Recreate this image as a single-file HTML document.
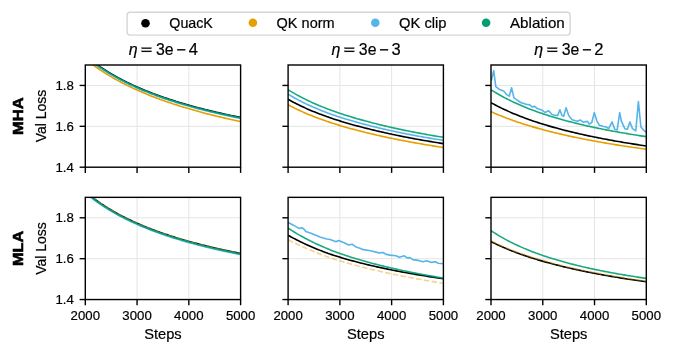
<!DOCTYPE html>
<html><head><meta charset="utf-8"><style>
html,body{margin:0;padding:0;background:#fff;width:673px;height:354px;overflow:hidden;}
svg{display:block;will-change:transform;font-family:"Liberation Sans", sans-serif;}
</style></head><body>
<svg width="673" height="354" viewBox="0 0 673 354">
<rect width="673" height="354" fill="#fff"/>
<defs>
<clipPath id="c00"><rect x="85.3" y="65.0" width="155.3" height="102.2"/></clipPath>
<clipPath id="c01"><rect x="288.1" y="65.0" width="155.3" height="102.2"/></clipPath>
<clipPath id="c02"><rect x="491.0" y="65.0" width="155.3" height="102.2"/></clipPath>
<clipPath id="c10"><rect x="85.3" y="197.35" width="155.3" height="102.2"/></clipPath>
<clipPath id="c11"><rect x="288.1" y="197.35" width="155.3" height="102.2"/></clipPath>
<clipPath id="c12"><rect x="491.0" y="197.35" width="155.3" height="102.2"/></clipPath>
</defs>
<line x1="137.07" y1="65.0" x2="137.07" y2="167.2" stroke="#e5e5e5" stroke-width="1"/>
<line x1="188.83" y1="65.0" x2="188.83" y2="167.2" stroke="#e5e5e5" stroke-width="1"/>
<line x1="85.3" y1="126.32" x2="240.60000000000002" y2="126.32" stroke="#e5e5e5" stroke-width="1"/>
<line x1="85.3" y1="85.44" x2="240.60000000000002" y2="85.44" stroke="#e5e5e5" stroke-width="1"/>
<g clip-path="url(#c00)" fill="none" stroke-linejoin="round" stroke-linecap="butt">
<path d="M85.30,55.58 L87.04,57.02 L88.79,58.43 L90.53,59.80 L92.28,61.13 L94.02,62.44 L95.77,63.71 L97.51,64.95 L99.26,66.16 L101.00,67.35 L102.75,68.50 L104.49,69.64 L106.24,70.74 L107.98,71.82 L109.73,72.88 L111.47,73.92 L113.22,74.93 L114.96,75.93 L116.71,76.90 L118.45,77.86 L120.20,78.79 L121.94,79.71 L123.69,80.61 L125.43,81.49 L127.18,82.36 L128.92,83.21 L130.67,84.04 L132.41,84.86 L134.16,85.66 L135.90,86.45 L137.65,87.22 L139.39,87.99 L141.14,88.74 L142.88,89.47 L144.63,90.19 L146.37,90.91 L148.12,91.61 L149.86,92.29 L151.61,92.97 L153.35,93.64 L155.10,94.29 L156.84,94.94 L158.59,95.57 L160.33,96.20 L162.08,96.82 L163.82,97.42 L165.57,98.02 L167.31,98.61 L169.06,99.19 L170.80,99.76 L172.55,100.32 L174.29,100.88 L176.04,101.43 L177.78,101.97 L179.53,102.50 L181.27,103.03 L183.02,103.54 L184.76,104.05 L186.51,104.56 L188.25,105.06 L190.00,105.55 L191.74,106.03 L193.49,106.51 L195.23,106.98 L196.98,107.45 L198.72,107.91 L200.47,108.36 L202.21,108.81 L203.96,109.25 L205.70,109.69 L207.45,110.12 L209.19,110.55 L210.94,110.97 L212.68,111.39 L214.43,111.80 L216.17,112.21 L217.92,112.61 L219.66,113.01 L221.41,113.40 L223.15,113.79 L224.90,114.18 L226.64,114.56 L228.39,114.93 L230.13,115.30 L231.88,115.67 L233.62,116.04 L235.37,116.40 L237.11,116.75 L238.86,117.10 L240.60,117.45" stroke="#000000" stroke-width="1.6"/>
<path d="M85.30,58.83 L87.04,60.24 L88.79,61.62 L90.53,62.96 L92.28,64.27 L94.02,65.55 L95.77,66.81 L97.51,68.03 L99.26,69.23 L101.00,70.40 L102.75,71.54 L104.49,72.66 L106.24,73.76 L107.98,74.84 L109.73,75.89 L111.47,76.92 L113.22,77.94 L114.96,78.93 L116.71,79.90 L118.45,80.86 L120.20,81.80 L121.94,82.72 L123.69,83.62 L125.43,84.50 L127.18,85.38 L128.92,86.23 L130.67,87.07 L132.41,87.90 L134.16,88.71 L135.90,89.51 L137.65,90.29 L139.39,91.07 L141.14,91.83 L142.88,92.57 L144.63,93.31 L146.37,94.03 L148.12,94.74 L149.86,95.45 L151.61,96.14 L153.35,96.82 L155.10,97.49 L156.84,98.15 L158.59,98.80 L160.33,99.44 L162.08,100.07 L163.82,100.70 L165.57,101.31 L167.31,101.92 L169.06,102.51 L170.80,103.10 L172.55,103.68 L174.29,104.26 L176.04,104.82 L177.78,105.38 L179.53,105.93 L181.27,106.47 L183.02,107.01 L184.76,107.54 L186.51,108.06 L188.25,108.58 L190.00,109.09 L191.74,109.59 L193.49,110.09 L195.23,110.58 L196.98,111.07 L198.72,111.55 L200.47,112.02 L202.21,112.49 L203.96,112.96 L205.70,113.41 L207.45,113.87 L209.19,114.31 L210.94,114.76 L212.68,115.19 L214.43,115.63 L216.17,116.05 L217.92,116.48 L219.66,116.89 L221.41,117.31 L223.15,117.72 L224.90,118.12 L226.64,118.52 L228.39,118.92 L230.13,119.31 L231.88,119.70 L233.62,120.09 L235.37,120.47 L237.11,120.84 L238.86,121.21 L240.60,121.58" stroke="#E69F00" stroke-width="1.6"/>
<path d="M85.30,56.53 L87.04,57.97 L88.79,59.38 L90.53,60.75 L92.28,62.08 L94.02,63.39 L95.77,64.66 L97.51,65.90 L99.26,67.11 L101.00,68.30 L102.75,69.45 L104.49,70.59 L106.24,71.69 L107.98,72.77 L109.73,73.83 L111.47,74.87 L113.22,75.88 L114.96,76.88 L116.71,77.85 L118.45,78.81 L120.20,79.74 L121.94,80.66 L123.69,81.56 L125.43,82.44 L127.18,83.31 L128.92,84.16 L130.67,84.99 L132.41,85.81 L134.16,86.61 L135.90,87.40 L137.65,88.17 L139.39,88.94 L141.14,89.69 L142.88,90.42 L144.63,91.14 L146.37,91.86 L148.12,92.56 L149.86,93.24 L151.61,93.92 L153.35,94.59 L155.10,95.24 L156.84,95.89 L158.59,96.52 L160.33,97.15 L162.08,97.77 L163.82,98.37 L165.57,98.97 L167.31,99.56 L169.06,100.14 L170.80,100.71 L172.55,101.27 L174.29,101.83 L176.04,102.38 L177.78,102.92 L179.53,103.45 L181.27,103.98 L183.02,104.49 L184.76,105.00 L186.51,105.51 L188.25,106.01 L190.00,106.50 L191.74,106.98 L193.49,107.46 L195.23,107.93 L196.98,108.40 L198.72,108.86 L200.47,109.31 L202.21,109.76 L203.96,110.20 L205.70,110.64 L207.45,111.07 L209.19,111.50 L210.94,111.92 L212.68,112.34 L214.43,112.75 L216.17,113.16 L217.92,113.56 L219.66,113.96 L221.41,114.35 L223.15,114.74 L224.90,115.13 L226.64,115.51 L228.39,115.88 L230.13,116.25 L231.88,116.62 L233.62,116.99 L235.37,117.35 L237.11,117.70 L238.86,118.05 L240.60,118.40" stroke="#56B4E9" stroke-width="1.6"/>
<path d="M85.30,56.03 L87.04,57.47 L88.79,58.88 L90.53,60.25 L92.28,61.58 L94.02,62.89 L95.77,64.16 L97.51,65.40 L99.26,66.61 L101.00,67.80 L102.75,68.95 L104.49,70.09 L106.24,71.19 L107.98,72.27 L109.73,73.33 L111.47,74.37 L113.22,75.38 L114.96,76.38 L116.71,77.35 L118.45,78.31 L120.20,79.24 L121.94,80.16 L123.69,81.06 L125.43,81.94 L127.18,82.81 L128.92,83.66 L130.67,84.49 L132.41,85.31 L134.16,86.11 L135.90,86.90 L137.65,87.67 L139.39,88.44 L141.14,89.19 L142.88,89.92 L144.63,90.64 L146.37,91.36 L148.12,92.06 L149.86,92.74 L151.61,93.42 L153.35,94.09 L155.10,94.74 L156.84,95.39 L158.59,96.02 L160.33,96.65 L162.08,97.27 L163.82,97.87 L165.57,98.47 L167.31,99.06 L169.06,99.64 L170.80,100.21 L172.55,100.77 L174.29,101.33 L176.04,101.88 L177.78,102.42 L179.53,102.95 L181.27,103.48 L183.02,103.99 L184.76,104.50 L186.51,105.01 L188.25,105.51 L190.00,106.00 L191.74,106.48 L193.49,106.96 L195.23,107.43 L196.98,107.90 L198.72,108.36 L200.47,108.81 L202.21,109.26 L203.96,109.70 L205.70,110.14 L207.45,110.57 L209.19,111.00 L210.94,111.42 L212.68,111.84 L214.43,112.25 L216.17,112.66 L217.92,113.06 L219.66,113.46 L221.41,113.85 L223.15,114.24 L224.90,114.63 L226.64,115.01 L228.39,115.38 L230.13,115.75 L231.88,116.12 L233.62,116.49 L235.37,116.85 L237.11,117.20 L238.86,117.55 L240.60,117.90" stroke="#009E73" stroke-width="1.6" stroke-opacity="0.9"/>
</g>
<rect x="85.3" y="65.0" width="155.3" height="102.2" fill="none" stroke="#000" stroke-width="1.4"/>
<line x1="85.30" y1="167.2" x2="85.30" y2="172.89999999999998" stroke="#000" stroke-width="1.4"/>
<line x1="137.07" y1="167.2" x2="137.07" y2="172.89999999999998" stroke="#000" stroke-width="1.4"/>
<line x1="188.83" y1="167.2" x2="188.83" y2="172.89999999999998" stroke="#000" stroke-width="1.4"/>
<line x1="240.60" y1="167.2" x2="240.60" y2="172.89999999999998" stroke="#000" stroke-width="1.4"/>
<line x1="79.6" y1="167.20" x2="85.3" y2="167.20" stroke="#000" stroke-width="1.4"/>
<line x1="79.6" y1="126.32" x2="85.3" y2="126.32" stroke="#000" stroke-width="1.4"/>
<line x1="79.6" y1="85.44" x2="85.3" y2="85.44" stroke="#000" stroke-width="1.4"/>
<line x1="339.87" y1="65.0" x2="339.87" y2="167.2" stroke="#e5e5e5" stroke-width="1"/>
<line x1="391.63" y1="65.0" x2="391.63" y2="167.2" stroke="#e5e5e5" stroke-width="1"/>
<line x1="288.1" y1="126.32" x2="443.40000000000003" y2="126.32" stroke="#e5e5e5" stroke-width="1"/>
<line x1="288.1" y1="85.44" x2="443.40000000000003" y2="85.44" stroke="#e5e5e5" stroke-width="1"/>
<g clip-path="url(#c01)" fill="none" stroke-linejoin="round" stroke-linecap="butt">
<path d="M288.10,99.30 L289.84,100.28 L291.59,101.24 L293.33,102.17 L295.08,103.08 L296.82,103.97 L298.57,104.83 L300.31,105.68 L302.06,106.51 L303.80,107.33 L305.55,108.12 L307.29,108.90 L309.04,109.66 L310.78,110.41 L312.53,111.14 L314.27,111.85 L316.02,112.56 L317.76,113.24 L319.51,113.92 L321.25,114.58 L323.00,115.23 L324.74,115.87 L326.49,116.50 L328.23,117.11 L329.98,117.71 L331.72,118.31 L333.47,118.89 L335.21,119.46 L336.96,120.03 L338.70,120.58 L340.45,121.13 L342.19,121.66 L343.94,122.19 L345.68,122.71 L347.43,123.22 L349.17,123.72 L350.92,124.21 L352.66,124.70 L354.41,125.18 L356.15,125.65 L357.90,126.12 L359.64,126.57 L361.39,127.03 L363.13,127.47 L364.88,127.91 L366.62,128.36 L368.37,128.80 L370.11,129.24 L371.86,129.67 L373.60,130.10 L375.35,130.52 L377.09,130.94 L378.84,131.35 L380.58,131.75 L382.33,132.15 L384.07,132.55 L385.82,132.94 L387.56,133.32 L389.31,133.70 L391.05,134.08 L392.80,134.45 L394.54,134.82 L396.29,135.18 L398.03,135.54 L399.78,135.90 L401.52,136.25 L403.27,136.59 L405.01,136.94 L406.76,137.28 L408.50,137.61 L410.25,137.94 L411.99,138.27 L413.74,138.60 L415.48,138.92 L417.23,139.24 L418.97,139.55 L420.72,139.86 L422.46,140.17 L424.21,140.47 L425.95,140.78 L427.70,141.08 L429.44,141.37 L431.19,141.66 L432.93,141.96 L434.68,142.24 L436.42,142.53 L438.17,142.81 L439.91,143.09 L441.66,143.36 L443.40,143.63" stroke="#000000" stroke-width="1.6"/>
<path d="M288.10,104.79 L289.84,105.71 L291.59,106.62 L293.33,107.50 L295.08,108.36 L296.82,109.21 L298.57,110.03 L300.31,110.84 L302.06,111.63 L303.80,112.41 L305.55,113.17 L307.29,113.91 L309.04,114.64 L310.78,115.35 L312.53,116.05 L314.27,116.74 L316.02,117.41 L317.76,118.07 L319.51,118.72 L321.25,119.35 L323.00,119.98 L324.74,120.59 L326.49,121.20 L328.23,121.79 L329.98,122.37 L331.72,122.94 L333.47,123.51 L335.21,124.06 L336.96,124.61 L338.70,125.14 L340.45,125.67 L342.19,126.19 L343.94,126.70 L345.68,127.20 L347.43,127.70 L349.17,128.18 L350.92,128.67 L352.66,129.14 L354.41,129.60 L356.15,130.06 L357.90,130.52 L359.64,130.96 L361.39,131.40 L363.13,131.84 L364.88,132.27 L366.62,132.70 L368.37,133.13 L370.11,133.55 L371.86,133.97 L373.60,134.38 L375.35,134.78 L377.09,135.18 L378.84,135.58 L380.58,135.97 L382.33,136.36 L384.07,136.74 L385.82,137.12 L387.56,137.49 L389.31,137.86 L391.05,138.22 L392.80,138.58 L394.54,138.94 L396.29,139.29 L398.03,139.64 L399.78,139.98 L401.52,140.32 L403.27,140.66 L405.01,140.99 L406.76,141.32 L408.50,141.64 L410.25,141.96 L411.99,142.28 L413.74,142.60 L415.48,142.91 L417.23,143.22 L418.97,143.52 L420.72,143.83 L422.46,144.12 L424.21,144.42 L425.95,144.71 L427.70,145.00 L429.44,145.29 L431.19,145.58 L432.93,145.86 L434.68,146.14 L436.42,146.42 L438.17,146.69 L439.91,146.96 L441.66,147.23 L443.40,147.49" stroke="#E69F00" stroke-width="1.6"/>
<path d="M288.10,94.11 L289.84,95.17 L291.59,96.21 L293.33,97.21 L295.08,98.19 L296.82,99.15 L298.57,100.09 L300.31,101.00 L302.06,101.89 L303.80,102.76 L305.55,103.61 L307.29,104.44 L309.04,105.25 L310.78,106.05 L312.53,106.83 L314.27,107.59 L316.02,108.33 L317.76,109.06 L319.51,109.78 L321.25,110.48 L323.00,111.17 L324.74,111.84 L326.49,112.50 L328.23,113.15 L329.98,113.78 L331.72,114.40 L333.47,115.01 L335.21,115.61 L336.96,116.20 L338.70,116.78 L340.45,117.35 L342.19,117.91 L343.94,118.46 L345.68,119.00 L347.43,119.53 L349.17,120.05 L350.92,120.56 L352.66,121.07 L354.41,121.56 L356.15,122.05 L357.90,122.53 L359.64,123.00 L361.39,123.47 L363.13,123.93 L364.88,124.38 L366.62,124.84 L368.37,125.30 L370.11,125.75 L371.86,126.19 L373.60,126.63 L375.35,127.07 L377.09,127.49 L378.84,127.91 L380.58,128.33 L382.33,128.74 L384.07,129.14 L385.82,129.54 L387.56,129.94 L389.31,130.33 L391.05,130.71 L392.80,131.09 L394.54,131.46 L396.29,131.83 L398.03,132.20 L399.78,132.56 L401.52,132.92 L403.27,133.27 L405.01,133.62 L406.76,133.96 L408.50,134.30 L410.25,134.64 L411.99,134.97 L413.74,135.30 L415.48,135.62 L417.23,135.94 L418.97,136.26 L420.72,136.58 L422.46,136.89 L424.21,137.19 L425.95,137.50 L427.70,137.80 L429.44,138.10 L431.19,138.39 L432.93,138.68 L434.68,138.97 L436.42,139.26 L438.17,139.54 L439.91,139.82 L441.66,140.10 L443.40,140.37" stroke="#56B4E9" stroke-width="1.6"/>
<path d="M288.10,89.75 L289.84,90.82 L291.59,91.87 L293.33,92.88 L295.08,93.88 L296.82,94.85 L298.57,95.80 L300.31,96.72 L302.06,97.63 L303.80,98.52 L305.55,99.38 L307.29,100.23 L309.04,101.06 L310.78,101.87 L312.53,102.67 L314.27,103.45 L316.02,104.21 L317.76,104.96 L319.51,105.69 L321.25,106.41 L323.00,107.12 L324.74,107.81 L326.49,108.49 L328.23,109.16 L329.98,109.81 L331.72,110.45 L333.47,111.09 L335.21,111.71 L336.96,112.32 L338.70,112.92 L340.45,113.51 L342.19,114.09 L343.94,114.66 L345.68,115.22 L347.43,115.77 L349.17,116.31 L350.92,116.85 L352.66,117.37 L354.41,117.89 L356.15,118.40 L357.90,118.90 L359.64,119.39 L361.39,119.88 L363.13,120.36 L364.88,120.83 L366.62,121.31 L368.37,121.78 L370.11,122.24 L371.86,122.70 L373.60,123.15 L375.35,123.60 L377.09,124.04 L378.84,124.47 L380.58,124.90 L382.33,125.32 L384.07,125.74 L385.82,126.15 L387.56,126.55 L389.31,126.95 L391.05,127.35 L392.80,127.74 L394.54,128.13 L396.29,128.51 L398.03,128.89 L399.78,129.26 L401.52,129.63 L403.27,129.99 L405.01,130.35 L406.76,130.71 L408.50,131.06 L410.25,131.41 L411.99,131.75 L413.74,132.09 L415.48,132.43 L417.23,132.76 L418.97,133.09 L420.72,133.41 L422.46,133.73 L424.21,134.05 L425.95,134.37 L427.70,134.68 L429.44,134.99 L431.19,135.29 L432.93,135.59 L434.68,135.89 L436.42,136.19 L438.17,136.48 L439.91,136.77 L441.66,137.06 L443.40,137.34" stroke="#009E73" stroke-width="1.6" stroke-opacity="0.9"/>
</g>
<rect x="288.1" y="65.0" width="155.3" height="102.2" fill="none" stroke="#000" stroke-width="1.4"/>
<line x1="288.10" y1="167.2" x2="288.10" y2="172.89999999999998" stroke="#000" stroke-width="1.4"/>
<line x1="339.87" y1="167.2" x2="339.87" y2="172.89999999999998" stroke="#000" stroke-width="1.4"/>
<line x1="391.63" y1="167.2" x2="391.63" y2="172.89999999999998" stroke="#000" stroke-width="1.4"/>
<line x1="443.40" y1="167.2" x2="443.40" y2="172.89999999999998" stroke="#000" stroke-width="1.4"/>
<line x1="282.40000000000003" y1="167.20" x2="288.1" y2="167.20" stroke="#000" stroke-width="1.4"/>
<line x1="282.40000000000003" y1="126.32" x2="288.1" y2="126.32" stroke="#000" stroke-width="1.4"/>
<line x1="282.40000000000003" y1="85.44" x2="288.1" y2="85.44" stroke="#000" stroke-width="1.4"/>
<line x1="542.77" y1="65.0" x2="542.77" y2="167.2" stroke="#e5e5e5" stroke-width="1"/>
<line x1="594.53" y1="65.0" x2="594.53" y2="167.2" stroke="#e5e5e5" stroke-width="1"/>
<line x1="491.0" y1="126.32" x2="646.3" y2="126.32" stroke="#e5e5e5" stroke-width="1"/>
<line x1="491.0" y1="85.44" x2="646.3" y2="85.44" stroke="#e5e5e5" stroke-width="1"/>
<g clip-path="url(#c02)" fill="none" stroke-linejoin="round" stroke-linecap="butt">
<path d="M491.00,102.64 L492.74,103.61 L494.49,104.55 L496.23,105.47 L497.98,106.37 L499.72,107.25 L501.47,108.11 L503.21,108.95 L504.96,109.78 L506.70,110.58 L508.45,111.37 L510.19,112.14 L511.94,112.90 L513.68,113.64 L515.43,114.36 L517.17,115.07 L518.92,115.77 L520.66,116.45 L522.41,117.12 L524.15,117.78 L525.90,118.43 L527.64,119.06 L529.39,119.68 L531.13,120.29 L532.88,120.89 L534.62,121.48 L536.37,122.06 L538.11,122.63 L539.86,123.20 L541.60,123.75 L543.35,124.29 L545.09,124.82 L546.84,125.35 L548.58,125.86 L550.33,126.37 L552.07,126.87 L553.82,127.36 L555.56,127.85 L557.31,128.33 L559.05,128.80 L560.80,129.26 L562.54,129.72 L564.29,130.17 L566.03,130.61 L567.78,131.05 L569.52,131.48 L571.27,131.90 L573.01,132.32 L574.76,132.74 L576.50,133.14 L578.25,133.55 L579.99,133.94 L581.74,134.34 L583.48,134.72 L585.23,135.10 L586.97,135.48 L588.72,135.85 L590.46,136.22 L592.21,136.58 L593.95,136.94 L595.70,137.30 L597.44,137.64 L599.19,137.99 L600.93,138.33 L602.68,138.67 L604.42,139.00 L606.17,139.33 L607.91,139.66 L609.66,139.98 L611.40,140.29 L613.15,140.61 L614.89,140.92 L616.64,141.23 L618.38,141.53 L620.13,141.83 L621.87,142.13 L623.62,142.42 L625.36,142.71 L627.11,143.00 L628.85,143.29 L630.60,143.57 L632.34,143.85 L634.09,144.12 L635.83,144.39 L637.58,144.66 L639.32,144.93 L641.07,145.20 L642.81,145.46 L644.56,145.72 L646.30,145.98" stroke="#000000" stroke-width="1.6"/>
<path d="M491.00,111.59 L492.74,112.38 L494.49,113.16 L496.23,113.91 L497.98,114.66 L499.72,115.38 L501.47,116.09 L503.21,116.79 L504.96,117.48 L506.70,118.15 L508.45,118.80 L510.19,119.45 L511.94,120.08 L513.68,120.70 L515.43,121.31 L517.17,121.91 L518.92,122.50 L520.66,123.08 L522.41,123.65 L524.15,124.21 L525.90,124.76 L527.64,125.30 L529.39,125.83 L531.13,126.35 L532.88,126.87 L534.62,127.38 L536.37,127.88 L538.11,128.37 L539.86,128.85 L541.60,129.33 L543.35,129.80 L545.09,130.26 L546.84,130.71 L548.58,131.16 L550.33,131.61 L552.07,132.04 L553.82,132.47 L555.56,132.90 L557.31,133.32 L559.05,133.73 L560.80,134.14 L562.54,134.54 L564.29,134.94 L566.03,135.33 L567.78,135.72 L569.52,136.10 L571.27,136.47 L573.01,136.85 L574.76,137.21 L576.50,137.58 L578.25,137.94 L579.99,138.29 L581.74,138.64 L583.48,138.99 L585.23,139.33 L586.97,139.67 L588.72,140.00 L590.46,140.33 L592.21,140.66 L593.95,140.98 L595.70,141.30 L597.44,141.62 L599.19,141.93 L600.93,142.24 L602.68,142.55 L604.42,142.85 L606.17,143.15 L607.91,143.44 L609.66,143.74 L611.40,144.03 L613.15,144.31 L614.89,144.60 L616.64,144.88 L618.38,145.16 L620.13,145.43 L621.87,145.71 L623.62,145.98 L625.36,146.24 L627.11,146.51 L628.85,146.77 L630.60,147.03 L632.34,147.29 L634.09,147.54 L635.83,147.80 L637.58,148.05 L639.32,148.30 L641.07,148.54 L642.81,148.79 L644.56,149.03 L646.30,149.27" stroke="#E69F00" stroke-width="1.6"/>
<path d="M490.90,80.50 L491.60,79.50 L493.70,70.60 L495.80,86.60 L499.60,89.60 L503.70,91.10 L506.40,94.30 L509.30,96.20 L511.60,87.80 L513.90,97.90 L517.70,100.40 L520.60,102.50 L526.10,104.20 L529.70,104.90 L532.20,106.90 L534.80,106.40 L537.30,108.60 L542.40,110.30 L545.00,112.50 L548.70,110.80 L551.70,114.20 L555.10,115.40 L557.70,115.40 L559.90,109.80 L561.90,115.40 L563.60,116.30 L566.10,107.80 L568.70,115.40 L572.10,119.70 L577.20,121.30 L580.50,120.00 L583.10,122.20 L587.50,121.40 L589.20,124.10 L591.80,122.50 L594.30,112.60 L596.90,121.10 L599.40,125.30 L603.60,126.50 L606.20,127.00 L608.70,128.70 L612.10,121.90 L614.70,129.20 L617.20,129.90 L619.70,112.60 L621.40,121.10 L624.80,128.70 L627.40,129.20 L629.90,121.90 L632.50,128.70 L635.80,130.90 L638.40,101.60 L640.90,127.00 L643.50,129.90 L646.20,132.30" stroke="#56B4E9" stroke-width="1.6"/>
<path d="M491.00,89.75 L492.74,90.86 L494.49,91.94 L496.23,92.99 L497.98,94.01 L499.72,95.01 L501.47,95.99 L503.21,96.94 L504.96,97.87 L506.70,98.78 L508.45,99.66 L510.19,100.53 L511.94,101.37 L513.68,102.20 L515.43,103.01 L517.17,103.80 L518.92,104.58 L520.66,105.34 L522.41,106.08 L524.15,106.80 L525.90,107.52 L527.64,108.21 L529.39,108.90 L531.13,109.57 L532.88,110.23 L534.62,110.87 L536.37,111.51 L538.11,112.13 L539.86,112.74 L541.60,113.34 L543.35,113.92 L545.09,114.50 L546.84,115.07 L548.58,115.63 L550.33,116.17 L552.07,116.71 L553.82,117.24 L555.56,117.76 L557.31,118.27 L559.05,118.78 L560.80,119.27 L562.54,119.76 L564.29,120.24 L566.03,120.71 L567.78,121.18 L569.52,121.63 L571.27,122.09 L573.01,122.53 L574.76,122.97 L576.50,123.40 L578.25,123.82 L579.99,124.24 L581.74,124.65 L583.48,125.06 L585.23,125.46 L586.97,125.85 L588.72,126.24 L590.46,126.63 L592.21,127.00 L593.95,127.38 L595.70,127.75 L597.44,128.11 L599.19,128.47 L600.93,128.82 L602.68,129.17 L604.42,129.52 L606.17,129.86 L607.91,130.19 L609.66,130.52 L611.40,130.85 L613.15,131.18 L614.89,131.49 L616.64,131.81 L618.38,132.12 L620.13,132.43 L621.87,132.73 L623.62,133.04 L625.36,133.33 L627.11,133.63 L628.85,133.92 L630.60,134.20 L632.34,134.49 L634.09,134.77 L635.83,135.04 L637.58,135.32 L639.32,135.59 L641.07,135.86 L642.81,136.12 L644.56,136.39 L646.30,136.64" stroke="#009E73" stroke-width="1.6" stroke-opacity="0.9"/>
</g>
<rect x="491.0" y="65.0" width="155.3" height="102.2" fill="none" stroke="#000" stroke-width="1.4"/>
<line x1="491.00" y1="167.2" x2="491.00" y2="172.89999999999998" stroke="#000" stroke-width="1.4"/>
<line x1="542.77" y1="167.2" x2="542.77" y2="172.89999999999998" stroke="#000" stroke-width="1.4"/>
<line x1="594.53" y1="167.2" x2="594.53" y2="172.89999999999998" stroke="#000" stroke-width="1.4"/>
<line x1="646.30" y1="167.2" x2="646.30" y2="172.89999999999998" stroke="#000" stroke-width="1.4"/>
<line x1="485.3" y1="167.20" x2="491.0" y2="167.20" stroke="#000" stroke-width="1.4"/>
<line x1="485.3" y1="126.32" x2="491.0" y2="126.32" stroke="#000" stroke-width="1.4"/>
<line x1="485.3" y1="85.44" x2="491.0" y2="85.44" stroke="#000" stroke-width="1.4"/>
<line x1="137.07" y1="197.35" x2="137.07" y2="299.55" stroke="#e5e5e5" stroke-width="1"/>
<line x1="188.83" y1="197.35" x2="188.83" y2="299.55" stroke="#e5e5e5" stroke-width="1"/>
<line x1="85.3" y1="258.67" x2="240.60000000000002" y2="258.67" stroke="#e5e5e5" stroke-width="1"/>
<line x1="85.3" y1="217.79" x2="240.60000000000002" y2="217.79" stroke="#e5e5e5" stroke-width="1"/>
<g clip-path="url(#c10)" fill="none" stroke-linejoin="round" stroke-linecap="butt">
<path d="M85.30,191.72 L87.04,193.17 L88.79,194.60 L90.53,195.98 L92.28,197.33 L94.02,198.64 L95.77,199.92 L97.51,201.18 L99.26,202.40 L101.00,203.59 L102.75,204.76 L104.49,205.89 L106.24,207.01 L107.98,208.09 L109.73,209.16 L111.47,210.20 L113.22,211.22 L114.96,212.22 L116.71,213.19 L118.45,214.15 L120.20,215.09 L121.94,216.00 L123.69,216.90 L125.43,217.79 L127.18,218.65 L128.92,219.50 L130.67,220.34 L132.41,221.15 L134.16,221.96 L135.90,222.74 L137.65,223.52 L139.39,224.28 L141.14,225.02 L142.88,225.76 L144.63,226.48 L146.37,227.19 L148.12,227.88 L149.86,228.57 L151.61,229.24 L153.35,229.91 L155.10,230.56 L156.84,231.20 L158.59,231.83 L160.33,232.45 L162.08,233.06 L163.82,233.67 L165.57,234.26 L167.31,234.84 L169.06,235.42 L170.80,235.99 L172.55,236.55 L174.29,237.10 L176.04,237.64 L177.78,238.17 L179.53,238.70 L181.27,239.22 L183.02,239.73 L184.76,240.24 L186.51,240.74 L188.25,241.23 L190.00,241.71 L191.74,242.19 L193.49,242.66 L195.23,243.13 L196.98,243.59 L198.72,244.05 L200.47,244.49 L202.21,244.94 L203.96,245.37 L205.70,245.80 L207.45,246.23 L209.19,246.65 L210.94,247.07 L212.68,247.48 L214.43,247.88 L216.17,248.28 L217.92,248.68 L219.66,249.07 L221.41,249.46 L223.15,249.84 L224.90,250.22 L226.64,250.59 L228.39,250.96 L230.13,251.33 L231.88,251.69 L233.62,252.05 L235.37,252.40 L237.11,252.75 L238.86,253.09 L240.60,253.44" stroke="#000000" stroke-width="1.6"/>
<path d="M85.30,191.57 L87.04,193.02 L88.79,194.45 L90.53,195.83 L92.28,197.18 L94.02,198.49 L95.77,199.77 L97.51,201.03 L99.26,202.25 L101.00,203.44 L102.75,204.61 L104.49,205.74 L106.24,206.86 L107.98,207.94 L109.73,209.01 L111.47,210.05 L113.22,211.07 L114.96,212.07 L116.71,213.04 L118.45,214.00 L120.20,214.94 L121.94,215.85 L123.69,216.75 L125.43,217.64 L127.18,218.50 L128.92,219.35 L130.67,220.19 L132.41,221.00 L134.16,221.81 L135.90,222.59 L137.65,223.37 L139.39,224.13 L141.14,224.87 L142.88,225.61 L144.63,226.33 L146.37,227.04 L148.12,227.73 L149.86,228.42 L151.61,229.09 L153.35,229.76 L155.10,230.41 L156.84,231.05 L158.59,231.68 L160.33,232.30 L162.08,232.91 L163.82,233.52 L165.57,234.11 L167.31,234.69 L169.06,235.27 L170.80,235.84 L172.55,236.40 L174.29,236.95 L176.04,237.49 L177.78,238.02 L179.53,238.55 L181.27,239.07 L183.02,239.58 L184.76,240.09 L186.51,240.59 L188.25,241.08 L190.00,241.56 L191.74,242.04 L193.49,242.51 L195.23,242.98 L196.98,243.44 L198.72,243.90 L200.47,244.34 L202.21,244.79 L203.96,245.22 L205.70,245.65 L207.45,246.08 L209.19,246.50 L210.94,246.92 L212.68,247.33 L214.43,247.73 L216.17,248.13 L217.92,248.53 L219.66,248.92 L221.41,249.31 L223.15,249.69 L224.90,250.07 L226.64,250.44 L228.39,250.81 L230.13,251.18 L231.88,251.54 L233.62,251.90 L235.37,252.25 L237.11,252.60 L238.86,252.94 L240.60,253.29" stroke="#E69F00" stroke-width="1.6" stroke-dasharray="5.5,2.4" stroke-opacity="0.45"/>
<path d="M85.30,192.87 L87.04,194.32 L88.79,195.75 L90.53,197.13 L92.28,198.48 L94.02,199.79 L95.77,201.07 L97.51,202.33 L99.26,203.55 L101.00,204.74 L102.75,205.91 L104.49,207.04 L106.24,208.16 L107.98,209.24 L109.73,210.31 L111.47,211.35 L113.22,212.37 L114.96,213.37 L116.71,214.34 L118.45,215.30 L120.20,216.24 L121.94,217.15 L123.69,218.05 L125.43,218.94 L127.18,219.80 L128.92,220.65 L130.67,221.49 L132.41,222.30 L134.16,223.11 L135.90,223.89 L137.65,224.67 L139.39,225.43 L141.14,226.17 L142.88,226.91 L144.63,227.63 L146.37,228.34 L148.12,229.03 L149.86,229.72 L151.61,230.39 L153.35,231.06 L155.10,231.71 L156.84,232.35 L158.59,232.98 L160.33,233.60 L162.08,234.21 L163.82,234.82 L165.57,235.41 L167.31,235.99 L169.06,236.57 L170.80,237.14 L172.55,237.70 L174.29,238.25 L176.04,238.79 L177.78,239.32 L179.53,239.85 L181.27,240.37 L183.02,240.88 L184.76,241.39 L186.51,241.89 L188.25,242.38 L190.00,242.86 L191.74,243.34 L193.49,243.81 L195.23,244.28 L196.98,244.74 L198.72,245.20 L200.47,245.64 L202.21,246.09 L203.96,246.52 L205.70,246.95 L207.45,247.38 L209.19,247.80 L210.94,248.22 L212.68,248.63 L214.43,249.03 L216.17,249.43 L217.92,249.83 L219.66,250.22 L221.41,250.61 L223.15,250.99 L224.90,251.37 L226.64,251.74 L228.39,252.11 L230.13,252.48 L231.88,252.84 L233.62,253.20 L235.37,253.55 L237.11,253.90 L238.86,254.24 L240.60,254.59" stroke="#56B4E9" stroke-width="1.6"/>
<path d="M85.30,192.32 L87.04,193.77 L88.79,195.20 L90.53,196.58 L92.28,197.93 L94.02,199.24 L95.77,200.52 L97.51,201.78 L99.26,203.00 L101.00,204.19 L102.75,205.36 L104.49,206.49 L106.24,207.61 L107.98,208.69 L109.73,209.76 L111.47,210.80 L113.22,211.82 L114.96,212.82 L116.71,213.79 L118.45,214.75 L120.20,215.69 L121.94,216.60 L123.69,217.50 L125.43,218.39 L127.18,219.25 L128.92,220.10 L130.67,220.94 L132.41,221.75 L134.16,222.56 L135.90,223.34 L137.65,224.12 L139.39,224.88 L141.14,225.62 L142.88,226.36 L144.63,227.08 L146.37,227.79 L148.12,228.48 L149.86,229.17 L151.61,229.84 L153.35,230.51 L155.10,231.16 L156.84,231.80 L158.59,232.43 L160.33,233.05 L162.08,233.66 L163.82,234.27 L165.57,234.86 L167.31,235.44 L169.06,236.02 L170.80,236.59 L172.55,237.15 L174.29,237.70 L176.04,238.24 L177.78,238.77 L179.53,239.30 L181.27,239.82 L183.02,240.33 L184.76,240.84 L186.51,241.34 L188.25,241.83 L190.00,242.31 L191.74,242.79 L193.49,243.26 L195.23,243.73 L196.98,244.19 L198.72,244.65 L200.47,245.09 L202.21,245.54 L203.96,245.97 L205.70,246.40 L207.45,246.83 L209.19,247.25 L210.94,247.67 L212.68,248.08 L214.43,248.48 L216.17,248.88 L217.92,249.28 L219.66,249.67 L221.41,250.06 L223.15,250.44 L224.90,250.82 L226.64,251.19 L228.39,251.56 L230.13,251.93 L231.88,252.29 L233.62,252.65 L235.37,253.00 L237.11,253.35 L238.86,253.69 L240.60,254.04" stroke="#009E73" stroke-width="1.6" stroke-opacity="0.9"/>
</g>
<rect x="85.3" y="197.35" width="155.3" height="102.2" fill="none" stroke="#000" stroke-width="1.4"/>
<line x1="85.30" y1="299.55" x2="85.30" y2="305.25" stroke="#000" stroke-width="1.4"/>
<line x1="137.07" y1="299.55" x2="137.07" y2="305.25" stroke="#000" stroke-width="1.4"/>
<line x1="188.83" y1="299.55" x2="188.83" y2="305.25" stroke="#000" stroke-width="1.4"/>
<line x1="240.60" y1="299.55" x2="240.60" y2="305.25" stroke="#000" stroke-width="1.4"/>
<line x1="79.6" y1="299.55" x2="85.3" y2="299.55" stroke="#000" stroke-width="1.4"/>
<line x1="79.6" y1="258.67" x2="85.3" y2="258.67" stroke="#000" stroke-width="1.4"/>
<line x1="79.6" y1="217.79" x2="85.3" y2="217.79" stroke="#000" stroke-width="1.4"/>
<line x1="339.87" y1="197.35" x2="339.87" y2="299.55" stroke="#e5e5e5" stroke-width="1"/>
<line x1="391.63" y1="197.35" x2="391.63" y2="299.55" stroke="#e5e5e5" stroke-width="1"/>
<line x1="288.1" y1="258.67" x2="443.40000000000003" y2="258.67" stroke="#e5e5e5" stroke-width="1"/>
<line x1="288.1" y1="217.79" x2="443.40000000000003" y2="217.79" stroke="#e5e5e5" stroke-width="1"/>
<g clip-path="url(#c11)" fill="none" stroke-linejoin="round" stroke-linecap="butt">
<path d="M288.10,235.27 L289.84,236.22 L291.59,237.18 L293.33,238.13 L295.08,239.05 L296.82,239.95 L298.57,240.83 L300.31,241.69 L302.06,242.54 L303.80,243.36 L305.55,244.17 L307.29,244.97 L309.04,245.75 L310.78,246.51 L312.53,247.26 L314.27,247.99 L316.02,248.71 L317.76,249.42 L319.51,250.12 L321.25,250.80 L323.00,251.47 L324.74,252.13 L326.49,252.77 L328.23,253.41 L329.98,254.04 L331.72,254.62 L333.47,255.19 L335.21,255.75 L336.96,256.30 L338.70,256.84 L340.45,257.37 L342.19,257.90 L343.94,258.42 L345.68,258.92 L347.43,259.42 L349.17,259.92 L350.92,260.40 L352.66,260.88 L354.41,261.35 L356.15,261.81 L357.90,262.27 L359.64,262.71 L361.39,263.16 L363.13,263.59 L364.88,264.02 L366.62,264.45 L368.37,264.87 L370.11,265.28 L371.86,265.69 L373.60,266.09 L375.35,266.48 L377.09,266.87 L378.84,267.26 L380.58,267.64 L382.33,268.01 L384.07,268.39 L385.82,268.75 L387.56,269.11 L389.31,269.47 L391.05,269.82 L392.80,270.17 L394.54,270.51 L396.29,270.85 L398.03,271.19 L399.78,271.52 L401.52,271.85 L403.27,272.17 L405.01,272.49 L406.76,272.81 L408.50,273.12 L410.25,273.43 L411.99,273.73 L413.74,274.04 L415.48,274.34 L417.23,274.63 L418.97,274.92 L420.72,275.21 L422.46,275.50 L424.21,275.78 L425.95,276.06 L427.70,276.34 L429.44,276.61 L431.19,276.88 L432.93,277.15 L434.68,277.42 L436.42,277.68 L438.17,277.94 L439.91,278.20 L441.66,278.45 L443.40,278.71" stroke="#000000" stroke-width="1.6"/>
<path d="M288.10,239.71 L289.84,240.59 L291.59,241.49 L293.33,242.37 L295.08,243.24 L296.82,244.09 L298.57,244.92 L300.31,245.74 L302.06,246.54 L303.80,247.33 L305.55,248.10 L307.29,248.86 L309.04,249.61 L310.78,250.35 L312.53,251.07 L314.27,251.78 L316.02,252.48 L317.76,253.17 L319.51,253.85 L321.25,254.52 L323.00,255.18 L324.74,255.82 L326.49,256.46 L328.23,257.09 L329.98,257.71 L331.72,258.28 L333.47,258.85 L335.21,259.40 L336.96,259.95 L338.70,260.49 L340.45,261.02 L342.19,261.54 L343.94,262.06 L345.68,262.57 L347.43,263.07 L349.17,263.56 L350.92,264.05 L352.66,264.53 L354.41,265.01 L356.15,265.48 L357.90,265.94 L359.64,266.40 L361.39,266.85 L363.13,267.30 L364.88,267.74 L366.62,268.17 L368.37,268.60 L370.11,269.03 L371.86,269.45 L373.60,269.86 L375.35,270.27 L377.09,270.68 L378.84,271.08 L380.58,271.47 L382.33,271.86 L384.07,272.25 L385.82,272.63 L387.56,273.01 L389.31,273.39 L391.05,273.76 L392.80,274.12 L394.54,274.48 L396.29,274.84 L398.03,275.20 L399.78,275.55 L401.52,275.90 L403.27,276.24 L405.01,276.58 L406.76,276.92 L408.50,277.25 L410.25,277.58 L411.99,277.91 L413.74,278.23 L415.48,278.55 L417.23,278.87 L418.97,279.19 L420.72,279.50 L422.46,279.81 L424.21,280.11 L425.95,280.42 L427.70,280.72 L429.44,281.01 L431.19,281.31 L432.93,281.60 L434.68,281.89 L436.42,282.18 L438.17,282.46 L439.91,282.74 L441.66,283.02 L443.40,283.30" stroke="#E69F00" stroke-width="1.6" stroke-dasharray="5.5,2.4" stroke-opacity="0.45"/>
<path d="M288.00,222.20 L288.80,222.70 L293.90,225.43 L299.00,228.37 L301.80,227.79 L304.10,229.21 L305.80,231.52 L310.90,233.26 L316.50,235.50 L319.90,236.92 L326.70,239.08 L330.10,239.50 L336.00,241.70 L338.50,240.50 L343.60,242.50 L348.70,245.00 L352.10,244.20 L355.50,246.70 L360.60,248.40 L362.00,249.40 L370.50,250.80 L378.90,252.90 L383.20,252.50 L386.00,254.40 L390.20,255.10 L395.90,255.80 L399.40,257.20 L404.30,255.80 L407.20,257.90 L410.00,257.60 L412.80,259.60 L418.50,260.40 L422.70,261.80 L426.90,260.70 L431.20,262.40 L435.40,261.80 L438.20,263.20 L443.30,263.80" stroke="#56B4E9" stroke-width="1.6"/>
<path d="M288.10,228.17 L289.84,229.28 L291.59,230.39 L293.33,231.48 L295.08,232.55 L296.82,233.59 L298.57,234.60 L300.31,235.60 L302.06,236.57 L303.80,237.53 L305.55,238.46 L307.29,239.38 L309.04,240.27 L310.78,241.15 L312.53,242.01 L314.27,242.86 L316.02,243.69 L317.76,244.50 L319.51,245.30 L321.25,246.08 L323.00,246.85 L324.74,247.61 L326.49,248.35 L328.23,249.08 L329.98,249.80 L331.72,250.47 L333.47,251.13 L335.21,251.78 L336.96,252.41 L338.70,253.04 L340.45,253.65 L342.19,254.26 L343.94,254.85 L345.68,255.44 L347.43,256.02 L349.17,256.58 L350.92,257.14 L352.66,257.69 L354.41,258.23 L356.15,258.76 L357.90,259.29 L359.64,259.81 L361.39,260.32 L363.13,260.82 L364.88,261.31 L366.62,261.80 L368.37,262.28 L370.11,262.75 L371.86,263.22 L373.60,263.68 L375.35,264.14 L377.09,264.59 L378.84,265.03 L380.58,265.46 L382.33,265.90 L384.07,266.32 L385.82,266.74 L387.56,267.15 L389.31,267.56 L391.05,267.97 L392.80,268.37 L394.54,268.76 L396.29,269.15 L398.03,269.53 L399.78,269.91 L401.52,270.29 L403.27,270.66 L405.01,271.03 L406.76,271.39 L408.50,271.75 L410.25,272.10 L411.99,272.45 L413.74,272.79 L415.48,273.14 L417.23,273.47 L418.97,273.81 L420.72,274.14 L422.46,274.47 L424.21,274.79 L425.95,275.11 L427.70,275.43 L429.44,275.74 L431.19,276.05 L432.93,276.35 L434.68,276.66 L436.42,276.96 L438.17,277.26 L439.91,277.55 L441.66,277.84 L443.40,278.13" stroke="#009E73" stroke-width="1.6" stroke-opacity="0.9"/>
</g>
<rect x="288.1" y="197.35" width="155.3" height="102.2" fill="none" stroke="#000" stroke-width="1.4"/>
<line x1="288.10" y1="299.55" x2="288.10" y2="305.25" stroke="#000" stroke-width="1.4"/>
<line x1="339.87" y1="299.55" x2="339.87" y2="305.25" stroke="#000" stroke-width="1.4"/>
<line x1="391.63" y1="299.55" x2="391.63" y2="305.25" stroke="#000" stroke-width="1.4"/>
<line x1="443.40" y1="299.55" x2="443.40" y2="305.25" stroke="#000" stroke-width="1.4"/>
<line x1="282.40000000000003" y1="299.55" x2="288.1" y2="299.55" stroke="#000" stroke-width="1.4"/>
<line x1="282.40000000000003" y1="258.67" x2="288.1" y2="258.67" stroke="#000" stroke-width="1.4"/>
<line x1="282.40000000000003" y1="217.79" x2="288.1" y2="217.79" stroke="#000" stroke-width="1.4"/>
<line x1="542.77" y1="197.35" x2="542.77" y2="299.55" stroke="#e5e5e5" stroke-width="1"/>
<line x1="594.53" y1="197.35" x2="594.53" y2="299.55" stroke="#e5e5e5" stroke-width="1"/>
<line x1="491.0" y1="258.67" x2="646.3" y2="258.67" stroke="#e5e5e5" stroke-width="1"/>
<line x1="491.0" y1="217.79" x2="646.3" y2="217.79" stroke="#e5e5e5" stroke-width="1"/>
<g clip-path="url(#c12)" fill="none" stroke-linejoin="round" stroke-linecap="butt">
<path d="M491.00,241.54 L492.74,242.42 L494.49,243.27 L496.23,244.11 L497.98,244.93 L499.72,245.73 L501.47,246.51 L503.21,247.28 L504.96,248.03 L506.70,248.77 L508.45,249.49 L510.19,250.19 L511.94,250.89 L513.68,251.56 L515.43,252.23 L517.17,252.88 L518.92,253.52 L520.66,254.15 L522.41,254.77 L524.15,255.37 L525.90,255.97 L527.64,256.55 L529.39,257.13 L531.13,257.69 L532.88,258.25 L534.62,258.79 L536.37,259.33 L538.11,259.86 L539.86,260.37 L541.60,260.89 L543.35,261.39 L545.09,261.88 L546.84,262.37 L548.58,262.85 L550.33,263.32 L552.07,263.79 L553.82,264.25 L555.56,264.70 L557.31,265.14 L559.05,265.58 L560.80,266.02 L562.54,266.44 L564.29,266.86 L566.03,267.28 L567.78,267.69 L569.52,268.09 L571.27,268.49 L573.01,268.88 L574.76,269.27 L576.50,269.65 L578.25,270.03 L579.99,270.40 L581.74,270.77 L583.48,271.14 L585.23,271.49 L586.97,271.85 L588.72,272.20 L590.46,272.55 L592.21,272.89 L593.95,273.22 L595.70,273.56 L597.44,273.89 L599.19,274.21 L600.93,274.54 L602.68,274.86 L604.42,275.17 L606.17,275.48 L607.91,275.79 L609.66,276.09 L611.40,276.40 L613.15,276.69 L614.89,276.99 L616.64,277.28 L618.38,277.57 L620.13,277.85 L621.87,278.14 L623.62,278.41 L625.36,278.69 L627.11,278.96 L628.85,279.24 L630.60,279.50 L632.34,279.77 L634.09,280.03 L635.83,280.29 L637.58,280.55 L639.32,280.80 L641.07,281.06 L642.81,281.31 L644.56,281.56 L646.30,281.80" stroke="#000000" stroke-width="1.6"/>
<path d="M491.00,240.74 L492.74,241.62 L494.49,242.47 L496.23,243.31 L497.98,244.13 L499.72,244.93 L501.47,245.71 L503.21,246.48 L504.96,247.23 L506.70,247.97 L508.45,248.69 L510.19,249.39 L511.94,250.09 L513.68,250.76 L515.43,251.43 L517.17,252.08 L518.92,252.72 L520.66,253.35 L522.41,253.97 L524.15,254.57 L525.90,255.17 L527.64,255.75 L529.39,256.33 L531.13,256.89 L532.88,257.45 L534.62,257.99 L536.37,258.53 L538.11,259.06 L539.86,259.57 L541.60,260.09 L543.35,260.59 L545.09,261.08 L546.84,261.57 L548.58,262.05 L550.33,262.52 L552.07,262.99 L553.82,263.45 L555.56,263.90 L557.31,264.34 L559.05,264.78 L560.80,265.22 L562.54,265.64 L564.29,266.06 L566.03,266.48 L567.78,266.89 L569.52,267.29 L571.27,267.69 L573.01,268.08 L574.76,268.47 L576.50,268.85 L578.25,269.23 L579.99,269.60 L581.74,269.97 L583.48,270.34 L585.23,270.69 L586.97,271.05 L588.72,271.40 L590.46,271.75 L592.21,272.09 L593.95,272.42 L595.70,272.76 L597.44,273.09 L599.19,273.41 L600.93,273.74 L602.68,274.06 L604.42,274.37 L606.17,274.68 L607.91,274.99 L609.66,275.29 L611.40,275.60 L613.15,275.89 L614.89,276.19 L616.64,276.48 L618.38,276.77 L620.13,277.05 L621.87,277.34 L623.62,277.61 L625.36,277.89 L627.11,278.16 L628.85,278.44 L630.60,278.70 L632.34,278.97 L634.09,279.23 L635.83,279.49 L637.58,279.75 L639.32,280.00 L641.07,280.26 L642.81,280.51 L644.56,280.76 L646.30,281.00" stroke="#E69F00" stroke-width="1.6" stroke-dasharray="5.5,2.4" stroke-opacity="0.45"/>
<path d="M491.00,230.64 L492.74,231.80 L494.49,232.94 L496.23,234.04 L497.98,235.11 L499.72,236.16 L501.47,237.18 L503.21,238.17 L504.96,239.14 L506.70,240.08 L508.45,241.00 L510.19,241.90 L511.94,242.77 L513.68,243.63 L515.43,244.47 L517.17,245.29 L518.92,246.09 L520.66,246.87 L522.41,247.63 L524.15,248.38 L525.90,249.11 L527.64,249.83 L529.39,250.53 L531.13,251.22 L532.88,251.90 L534.62,252.56 L536.37,253.20 L538.11,253.84 L539.86,254.46 L541.60,255.07 L543.35,255.67 L545.09,256.26 L546.84,256.84 L548.58,257.40 L550.33,257.96 L552.07,258.51 L553.82,259.04 L555.56,259.57 L557.31,260.09 L559.05,260.60 L560.80,261.10 L562.54,261.59 L564.29,262.07 L566.03,262.55 L567.78,263.02 L569.52,263.48 L571.27,263.93 L573.01,264.38 L574.76,264.82 L576.50,265.25 L578.25,265.68 L579.99,266.09 L581.74,266.51 L583.48,266.91 L585.23,267.31 L586.97,267.71 L588.72,268.10 L590.46,268.48 L592.21,268.86 L593.95,269.23 L595.70,269.60 L597.44,269.96 L599.19,270.32 L600.93,270.67 L602.68,271.02 L604.42,271.36 L606.17,271.70 L607.91,272.03 L609.66,272.36 L611.40,272.68 L613.15,273.00 L614.89,273.32 L616.64,273.63 L618.38,273.94 L620.13,274.25 L621.87,274.55 L623.62,274.84 L625.36,275.14 L627.11,275.43 L628.85,275.71 L630.60,275.99 L632.34,276.27 L634.09,276.55 L635.83,276.82 L637.58,277.09 L639.32,277.36 L641.07,277.62 L642.81,277.88 L644.56,278.14 L646.30,278.39" stroke="#009E73" stroke-width="1.6" stroke-opacity="0.9"/>
</g>
<rect x="491.0" y="197.35" width="155.3" height="102.2" fill="none" stroke="#000" stroke-width="1.4"/>
<line x1="491.00" y1="299.55" x2="491.00" y2="305.25" stroke="#000" stroke-width="1.4"/>
<line x1="542.77" y1="299.55" x2="542.77" y2="305.25" stroke="#000" stroke-width="1.4"/>
<line x1="594.53" y1="299.55" x2="594.53" y2="305.25" stroke="#000" stroke-width="1.4"/>
<line x1="646.30" y1="299.55" x2="646.30" y2="305.25" stroke="#000" stroke-width="1.4"/>
<line x1="485.3" y1="299.55" x2="491.0" y2="299.55" stroke="#000" stroke-width="1.4"/>
<line x1="485.3" y1="258.67" x2="491.0" y2="258.67" stroke="#000" stroke-width="1.4"/>
<line x1="485.3" y1="217.79" x2="491.0" y2="217.79" stroke="#000" stroke-width="1.4"/>
<g font-family="'Liberation Sans', sans-serif" fill="#000" stroke="#000" stroke-width="0.2">
<text x="73.9" y="171.5" font-size="12.8" text-anchor="end" textLength="18.4" lengthAdjust="spacingAndGlyphs">1.4</text>
<text x="73.9" y="130.61999999999998" font-size="12.8" text-anchor="end" textLength="18.4" lengthAdjust="spacingAndGlyphs">1.6</text>
<text x="73.9" y="89.73999999999997" font-size="12.8" text-anchor="end" textLength="18.4" lengthAdjust="spacingAndGlyphs">1.8</text>
<text x="73.9" y="303.85" font-size="12.8" text-anchor="end" textLength="18.4" lengthAdjust="spacingAndGlyphs">1.4</text>
<text x="73.9" y="262.96999999999997" font-size="12.8" text-anchor="end" textLength="18.4" lengthAdjust="spacingAndGlyphs">1.6</text>
<text x="73.9" y="222.08999999999997" font-size="12.8" text-anchor="end" textLength="18.4" lengthAdjust="spacingAndGlyphs">1.8</text>
<text x="85.30" y="319.8" font-size="12.8" text-anchor="middle" textLength="29.4" lengthAdjust="spacingAndGlyphs">2000</text>
<text x="137.07" y="319.8" font-size="12.8" text-anchor="middle" textLength="29.4" lengthAdjust="spacingAndGlyphs">3000</text>
<text x="188.83" y="319.8" font-size="12.8" text-anchor="middle" textLength="29.4" lengthAdjust="spacingAndGlyphs">4000</text>
<text x="240.60" y="319.8" font-size="12.8" text-anchor="middle" textLength="29.4" lengthAdjust="spacingAndGlyphs">5000</text>
<text x="162.95" y="338.8" font-size="15.2" text-anchor="middle" textLength="37.5" lengthAdjust="spacingAndGlyphs">Steps</text>
<text x="288.10" y="319.8" font-size="12.8" text-anchor="middle" textLength="29.4" lengthAdjust="spacingAndGlyphs">2000</text>
<text x="339.87" y="319.8" font-size="12.8" text-anchor="middle" textLength="29.4" lengthAdjust="spacingAndGlyphs">3000</text>
<text x="391.63" y="319.8" font-size="12.8" text-anchor="middle" textLength="29.4" lengthAdjust="spacingAndGlyphs">4000</text>
<text x="443.40" y="319.8" font-size="12.8" text-anchor="middle" textLength="29.4" lengthAdjust="spacingAndGlyphs">5000</text>
<text x="365.75" y="338.8" font-size="15.2" text-anchor="middle" textLength="37.5" lengthAdjust="spacingAndGlyphs">Steps</text>
<text x="491.00" y="319.8" font-size="12.8" text-anchor="middle" textLength="29.4" lengthAdjust="spacingAndGlyphs">2000</text>
<text x="542.77" y="319.8" font-size="12.8" text-anchor="middle" textLength="29.4" lengthAdjust="spacingAndGlyphs">3000</text>
<text x="594.53" y="319.8" font-size="12.8" text-anchor="middle" textLength="29.4" lengthAdjust="spacingAndGlyphs">4000</text>
<text x="646.30" y="319.8" font-size="12.8" text-anchor="middle" textLength="29.4" lengthAdjust="spacingAndGlyphs">5000</text>
<text x="568.65" y="338.8" font-size="15.2" text-anchor="middle" textLength="37.5" lengthAdjust="spacingAndGlyphs">Steps</text>
<text transform="translate(22.9,116.10) rotate(-90)" font-size="15.4" font-weight="bold" stroke="#000" stroke-width="0.6" text-anchor="middle" textLength="37.8" lengthAdjust="spacingAndGlyphs">MHA</text>
<text transform="translate(45.8,116.10) rotate(-90)" font-size="14.6" text-anchor="middle" textLength="52.5" lengthAdjust="spacingAndGlyphs">Val Loss</text>
<text transform="translate(22.9,248.45) rotate(-90)" font-size="15.4" font-weight="bold" stroke="#000" stroke-width="0.6" text-anchor="middle" textLength="35.0" lengthAdjust="spacingAndGlyphs">MLA</text>
<text transform="translate(45.8,248.45) rotate(-90)" font-size="14.6" text-anchor="middle" textLength="52.5" lengthAdjust="spacingAndGlyphs">Val Loss</text>
<g transform="translate(0.15,0)" font-size="16.5">
<text x="128.5" y="54.8" font-style="italic" textLength="8.9" lengthAdjust="spacingAndGlyphs">η</text>
<rect x="141.6" y="47.65" width="9.7" height="1.1"/>
<rect x="141.6" y="50.85" width="9.7" height="1.1"/>
<text x="155.9" y="54.8" textLength="17.6" lengthAdjust="spacingAndGlyphs">3e</text>
<rect x="177.1" y="49.15" width="8.0" height="1.25"/>
<text x="188.5" y="54.8">4</text>
</g>
<g transform="translate(202.95,0)" font-size="16.5">
<text x="128.5" y="54.8" font-style="italic" textLength="8.9" lengthAdjust="spacingAndGlyphs">η</text>
<rect x="141.6" y="47.65" width="9.7" height="1.1"/>
<rect x="141.6" y="50.85" width="9.7" height="1.1"/>
<text x="155.9" y="54.8" textLength="17.6" lengthAdjust="spacingAndGlyphs">3e</text>
<rect x="177.1" y="49.15" width="8.0" height="1.25"/>
<text x="188.5" y="54.8">3</text>
</g>
<g transform="translate(405.85,0)" font-size="16.5">
<text x="128.5" y="54.8" font-style="italic" textLength="8.9" lengthAdjust="spacingAndGlyphs">η</text>
<rect x="141.6" y="47.65" width="9.7" height="1.1"/>
<rect x="141.6" y="50.85" width="9.7" height="1.1"/>
<text x="155.9" y="54.8" textLength="17.6" lengthAdjust="spacingAndGlyphs">3e</text>
<rect x="177.1" y="49.15" width="8.0" height="1.25"/>
<text x="188.5" y="54.8">2</text>
</g>
<rect x="127.1" y="12.3" width="443.0" height="22.8" rx="3" fill="#fff" stroke="#d6d6d6" stroke-width="1.4"/>
<circle cx="145.5" cy="23.2" r="4.3" fill="#000000" stroke="none"/>
<circle cx="252.9" cy="22.8" r="4.3" fill="#E69F00" stroke="none"/>
<circle cx="375.3" cy="22.8" r="4.3" fill="#56B4E9" stroke="none"/>
<circle cx="486.1" cy="22.8" r="4.3" fill="#009E73" stroke="none"/>
<text x="169.3" y="27.7" font-size="14.8" text-anchor="start" textLength="43.6" lengthAdjust="spacingAndGlyphs">QuacK</text>
<text x="276.6" y="27.7" font-size="14.8" text-anchor="start" textLength="58.0" lengthAdjust="spacingAndGlyphs">QK norm</text>
<text x="399.0" y="27.7" font-size="14.8" text-anchor="start" textLength="47.5" lengthAdjust="spacingAndGlyphs">QK clip</text>
<text x="510.0" y="27.7" font-size="14.8" text-anchor="start" textLength="54.8" lengthAdjust="spacingAndGlyphs">Ablation</text>
</g>
</svg>
</body></html>
